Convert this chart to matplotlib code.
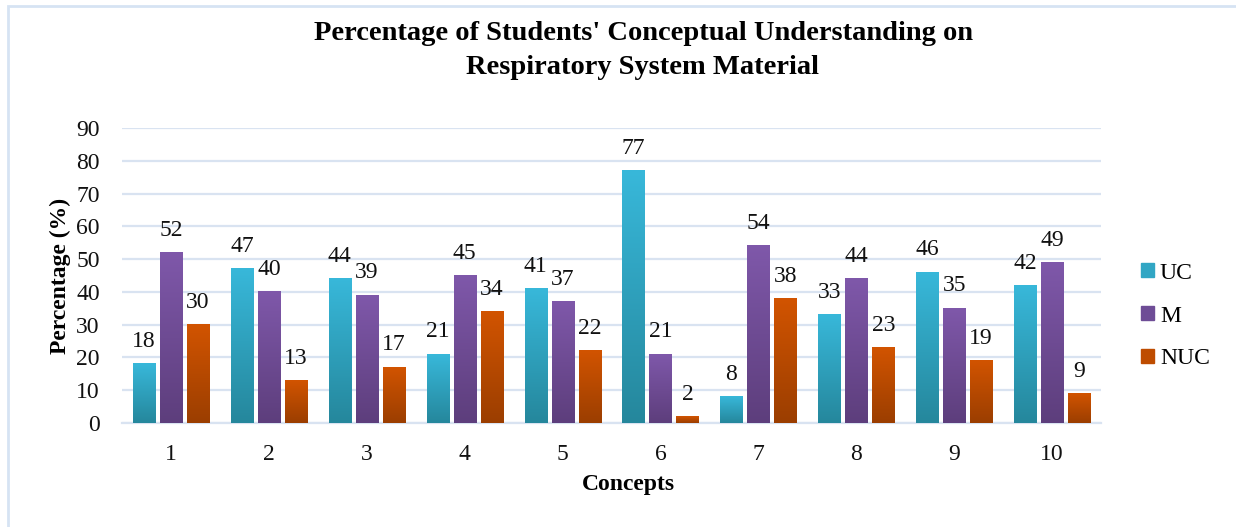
import numpy as np
import matplotlib
matplotlib.use("Agg")
import matplotlib.pyplot as plt
from matplotlib.colors import LinearSegmentedColormap
from matplotlib.patches import Rectangle

concepts = ["1", "2", "3", "4", "5", "6", "7", "8", "9", "10"]
uc = [18, 47, 44, 21, 41, 77, 8, 33, 46, 42]
m = [52, 40, 39, 45, 37, 21, 54, 44, 35, 49]
nuc = [30, 13, 17, 34, 22, 2, 38, 23, 19, 9]
series_names = ["UC", "M", "NUC"]
yticks = [0, 10, 20, 30, 40, 50, 60, 70, 80, 90]

top_colors = ["#38B8DA", "#7F58AA", "#D25400"]
bot_colors = ["#25879C", "#5D3E7C", "#9B3E00"]
legend_colors = ["#31A6C4", "#6E4D96", "#BE4C00"]

plt.rcParams["font.family"] = ["Liberation Serif", "DejaVu Serif"]

fig = plt.figure(figsize=(12.36, 5.27), dpi=100)
# outer light-blue frame
fig.patches.append(Rectangle((8/1236, -0.1), 1.2, 1 - 6/527 + 0.1, transform=fig.transFigure,
                             fill=False, edgecolor="#D6E3F3", linewidth=2.0, zorder=0))

ax = fig.add_axes([122/1236, 1 - 423/527, (1101 - 122)/1236, (423 - 128)/527])
x = np.arange(1, len(concepts) + 1)
width = 0.225
step = 0.276
data = [uc, m, nuc]
for i, vals in enumerate(data):
    bars = ax.bar(x + (i - 1) * step, vals, width, color="none", edgecolor="none", zorder=3,
                  label=series_names[i])
    cmap = LinearSegmentedColormap.from_list("g%d" % i, [bot_colors[i], top_colors[i]])
    grad = np.linspace(0, 1, 256).reshape(-1, 1)
    for b, v in zip(bars, vals):
        x0 = b.get_x()
        w = b.get_width()
        h = b.get_height()
        ax.imshow(grad, extent=[x0, x0 + w, 0, h], origin="lower", aspect="auto",
                  cmap=cmap, zorder=3, interpolation="bilinear")
        ax.annotate(str(v), (x0 + w / 2, h), xytext=(0, 8.5), textcoords="offset points",
                    ha="center", va="bottom", fontsize=17, color="#111111", zorder=4)

ax.set_xlim(0.5, 10.5)
ax.set_ylim(0, 90)
ax.set_yticks(yticks)
ax.set_xticks(x)
ax.set_xticklabels(concepts)
ax.tick_params(axis="both", length=0, labelsize=17, colors="#111111")
ax.tick_params(axis="x", pad=15)
ax.tick_params(axis="y", pad=16)
ax.grid(axis="y", color="#D9E3F1", linewidth=1.6, zorder=0)
ax.set_axisbelow(True)
for s in ["top", "right", "left"]:
    ax.spines[s].set_visible(False)
ax.spines["bottom"].set_color("#D9E3F1")
ax.spines["bottom"].set_linewidth(1.6)

ax.set_xlabel("Concepts", fontsize=17, fontweight="bold", labelpad=8)
ax.xaxis.set_label_coords((628 - 122) / 979, -0.207)
ax.xaxis.label.set_va("center")
ax.set_ylabel("Percentage (%)", fontsize=17, fontweight="bold", labelpad=4)

fig.text(643/1236, 1 - 33/527, "Percentage of Students' Conceptual Understanding on",
         ha="center", va="center", fontsize=20.5, fontweight="bold")
fig.text(643/1236, 1 - 67/527, "Respiratory System Material",
         ha="center", va="center", fontsize=20.5, fontweight="bold")

handles = [Rectangle((0, 0), 1, 1, color=c) for c in legend_colors]
leg = fig.legend(handles, series_names, loc="center left", bbox_to_anchor=(1141/1236, 1 - 316/527),
                 frameon=False, fontsize=17, labelspacing=0.93, handlelength=0.55, handleheight=0.55,
                 handletextpad=0.25, borderpad=0, borderaxespad=0)

fig.savefig("out.png", dpi=100)
